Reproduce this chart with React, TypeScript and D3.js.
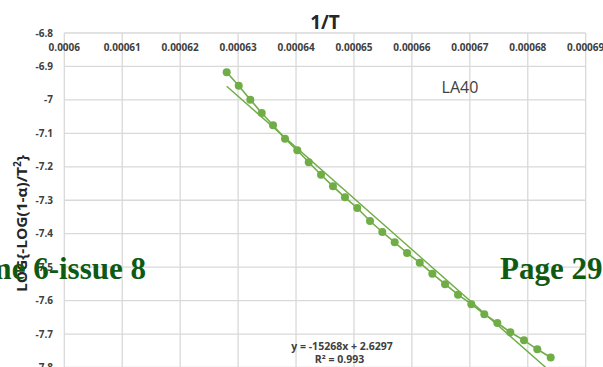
import React from "react";
import * as d3 from "d3";

const invT: number[] = [
  0.00062803, 0.00063011, 0.00063211, 0.00063408, 0.00063603, 0.0006381, 0.00064022,
  0.00064219, 0.00064431, 0.00064638, 0.00064845, 0.00065056, 0.00065277, 0.00065489,
  0.00065703, 0.00065916, 0.00066135, 0.00066353, 0.00066572, 0.00066796, 0.00067026,
  0.0006725, 0.00067475, 0.00067699, 0.00067935, 0.00068165, 0.00068396,
];
const logVals: number[] = [
  -6.9175, -6.9576, -6.9994, -7.0392, -7.0759, -7.116, -7.1507, -7.1866, -7.2236,
  -7.2583, -7.2912, -7.3232, -7.362, -7.3949, -7.4257, -7.4577, -7.4867, -7.5196,
  -7.5508, -7.5822, -7.6106, -7.6405, -7.667, -7.6948, -7.7187, -7.7456, -7.77,
];
const xTicks: number[] = [0.0006, 0.00061, 0.00062, 0.00063, 0.00064, 0.00065, 0.00066, 0.00067, 0.00068, 0.00069];
const yTicks: number[] = [-6.8, -6.9, -7, -7.1, -7.2, -7.3, -7.4, -7.5, -7.6, -7.7, -7.8, -7.9];
const slope = -15268;
const intercept = 2.6297;
const chartTitle = "1/T";
const yTitle = "LOG{-LOG(1-α)/T";
const seriesLabel = "LA40";
const eqLine1 = "y = -15268x + 2.6297";
const eqLine2 = "R² = 0.993";
const footerLeft = "Volume 6-issue 8";
const footerRight = "Page 29";

export default function App() {
  const W = 603;
  const H = 367;
  const x = d3.scaleLinear().domain([0.0006, 0.00069]).range([64.3, 585.7]);
  const y = d3.scaleLinear().domain([-7.9, -6.8]).range([33 + 334.5 * 1.1, 33]);
  const green = "#70AD47";
  const grid = "#d9d9d9";
  const pts = invT.map((v, i) => [v, logVals[i]] as [number, number]);
  const line = d3
    .line<[number, number]>()
    .x((d) => x(d[0]))
    .y((d) => y(d[1]));
  const tx0 = invT[0];
  const tx1 = invT[invT.length - 1];
  const trend: [number, number][] = [
    [tx0, slope * tx0 + intercept],
    [tx1, slope * tx1 + intercept],
  ];
  const lab = "'Open Sans', Lato, sans-serif";
  const serif = "'Liberation Serif', 'DejaVu Serif', serif";
  return (
    <svg
      width={W}
      height={H}
      style={{ position: "absolute", left: 0, top: 0, background: "#fff", overflow: "hidden" }}
    >
      <rect x={0} y={0} width={W} height={H} fill="#fff" />
      {xTicks.map((t) => (
        <line key={"gx" + t} x1={x(t)} x2={x(t)} y1={y(-6.8)} y2={y(-7.9)} stroke={grid} strokeWidth={1.3} />
      ))}
      {yTicks.map((t) => (
        <line key={"gy" + t} x1={x(0.0006)} x2={x(0.00069)} y1={y(t)} y2={y(t)} stroke={grid} strokeWidth={1.3} />
      ))}
      {xTicks.map((t) => (
        <text
          key={"tx" + t}
          x={x(t)}
          y={y(-6.8) + 18}
          textAnchor="middle"
          fontFamily={lab}
          fontWeight="bold"
          fontSize={10}
          fill="#404040"
        >
          {String(+t.toFixed(5))}
        </text>
      ))}
      {yTicks.map((t) => (
        <text
          key={"ty" + t}
          x={53}
          y={y(t) + 3.5}
          textAnchor="end"
          fontFamily={lab}
          fontWeight="bold"
          fontSize={10}
          fill="#404040"
        >
          {String(+t.toFixed(1))}
        </text>
      ))}
      <path d={line(trend) || ""} fill="none" stroke={green} strokeWidth={1.4} />
      <path d={line(pts) || ""} fill="none" stroke={green} strokeWidth={1.6} />
      {pts.map((d, i) => (
        <circle key={"p" + i} cx={x(d[0])} cy={y(d[1])} r={4} fill={green} />
      ))}
      <text x={325} y={29} textAnchor="middle" fontFamily={lab} fontWeight="bold" fontSize={19} fill="#262626">
        {chartTitle}
      </text>
      <text
        transform="translate(26.5,223.5) rotate(-90)"
        textAnchor="middle"
        fontFamily={lab}
        fontWeight="bold"
        fontSize={15}
        fill="#262626"
        textLength={137}
        lengthAdjust="spacingAndGlyphs"
      >
        {yTitle}
        <tspan dy={-6} fontSize={10}>2</tspan>
        <tspan dy={6}>{"}"}</tspan>
      </text>
      <text x={460} y={93} textAnchor="middle" fontFamily={lab} fontSize={16} fill="#404040">
        {seriesLabel}
      </text>
      <text x={342} y={350} textAnchor="middle" fontFamily={lab} fontWeight="bold" fontSize={10.5} fill="#404040">
        {eqLine1}
      </text>
      <text x={339.5} y={363} textAnchor="middle" fontFamily={lab} fontWeight="bold" fontSize={10.5} fill="#404040">
        {eqLine2}
      </text>
      <text x={146} y={279} textAnchor="end" fontFamily={serif} fontWeight="bold" fontSize={31} fill="#0f5a12">
        {footerLeft}
      </text>
      <text x={500} y={279} textAnchor="start" fontFamily={serif} fontWeight="bold" fontSize={31} fill="#0f5a12">
        {footerRight}
      </text>
    </svg>
  );
}
